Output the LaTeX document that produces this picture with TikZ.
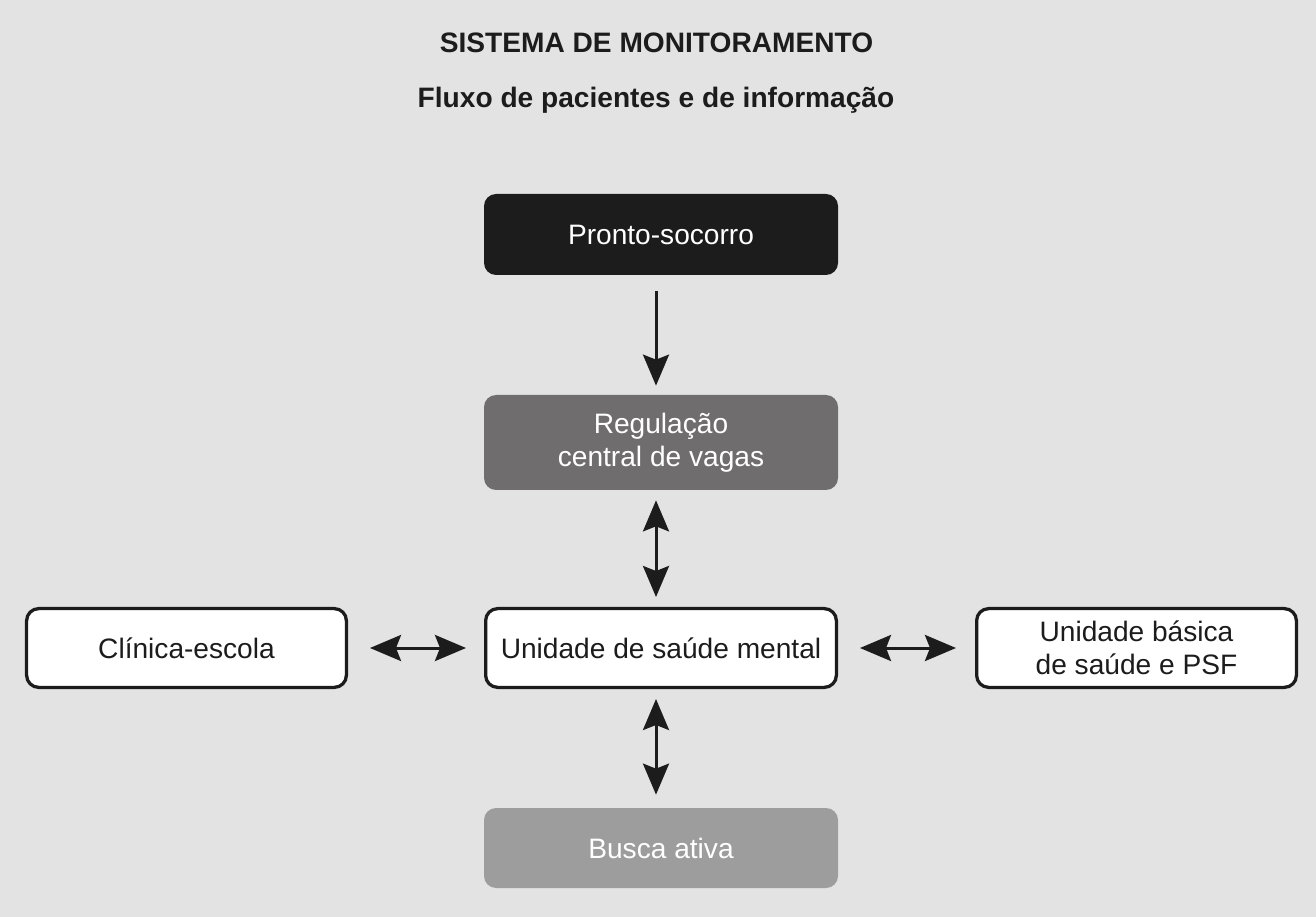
\documentclass[tikz,border=0pt]{standalone}
\usepackage{fontspec}
\setmainfont{Liberation Sans}
\usepackage{tikz}
\usetikzlibrary{arrows.meta,positioning}
\definecolor{MonBack}{HTML}{E3E3E3}
\definecolor{MonBlack}{HTML}{1C1C1C}
\definecolor{MonGrey}{HTML}{6F6D6D}
\definecolor{MonLightGrey}{HTML}{9D9D9D}
\definecolor{MonWhite}{HTML}{FFFFFF}
\tikzset{
    % Base node style
    basenode/.style={
        rounded corners=0.24cm,
        minimum width=7.08cm,
        minimum height=1.62cm,
        inner sep=0pt,
        align=center,
        text height=11.5pt,
        text depth=0pt,
        font=\fontsize{16}{18.5}\selectfont
    },
    % Two lines of text
    twoline/.style={
        text height=,
        text depth=
    },
    % Filled layer styles
    blacknode/.style={
        basenode,
        fill=MonBlack,
        text=MonWhite
    },
    greynode/.style={
        basenode,
        fill=MonGrey,
        text=MonWhite,
        minimum height=1.9cm
    },
    lightnode/.style={
        basenode,
        fill=MonLightGrey,
        text=MonWhite,
        minimum height=1.6cm
    },
    % Outlined box
    whitenode/.style={
        basenode,
        draw=MonBlack,
        fill=MonWhite,
        text=MonBlack,
        line width=0.065cm,
        minimum width=7.015cm,
        minimum height=1.575cm
    },
    % Title text
    titlenode/.style={
        anchor=base,
        inner sep=0pt,
        text=MonBlack,
        font=\fontsize{16}{18.5}\selectfont\bfseries
    },
    % Arrow styles
    myarrow/.style={
        -{Stealth[length=0.62cm,width=0.52cm,inset=0.1cm]},
        line width=0.06cm,
        draw=MonBlack
    },
    biarrow/.style={
        {Stealth[length=0.62cm,width=0.52cm,inset=0.1cm]}-{Stealth[length=0.62cm,width=0.52cm,inset=0.1cm]},
        line width=0.06cm,
        draw=MonBlack
    }
}
\begin{document}
\begin{tikzpicture}
    \fill[MonBack] (0,0) rectangle (26.32,-18.34);

    \node[titlenode] (title) at (13.13,-1.06) {SISTEMA DE MONITORAMENTO};
    \node[titlenode] (subtitle) at (13.12,-2.16) {Fluxo de pacientes e de informação};

    \node[blacknode] (ps) at (13.22,-4.69) {Pronto-socorro};
    \node[greynode, twoline] (reg) at (13.22,-8.85) {Regulação\\central de vagas};
    \node[whitenode] (usm) at (13.22,-12.96) {Unidade de saúde mental};
    \node[whitenode, minimum width=6.395cm] (clin) at (3.73,-12.96) {Clínica-escola};
    \node[whitenode, minimum width=6.395cm, twoline] (ubs) at (22.73,-12.96) {Unidade básica\\de saúde e PSF};
    \node[lightnode] (busca) at (13.22,-16.96) {Busca ativa};

    \draw[myarrow, shorten <=0.32cm, shorten >=0.18cm] ([xshift=-0.1cm]ps.south) -- ([xshift=-0.1cm]reg.north);
    \draw[biarrow, shorten <=0.2cm, shorten >=0.2cm] ([xshift=-0.1cm]reg.south) -- ([xshift=-0.1cm]usm.north);
    \draw[biarrow, shorten <=0.2cm, shorten >=0.26cm] ([xshift=-0.1cm]usm.south) -- ([xshift=-0.1cm]busca.north);
    \draw[biarrow, shorten <=0.44cm, shorten >=0.36cm] (clin.east) -- (usm.west);
    \draw[biarrow, shorten <=0.44cm, shorten >=0.38cm] (usm.east) -- (ubs.west);
\end{tikzpicture}
\end{document}
